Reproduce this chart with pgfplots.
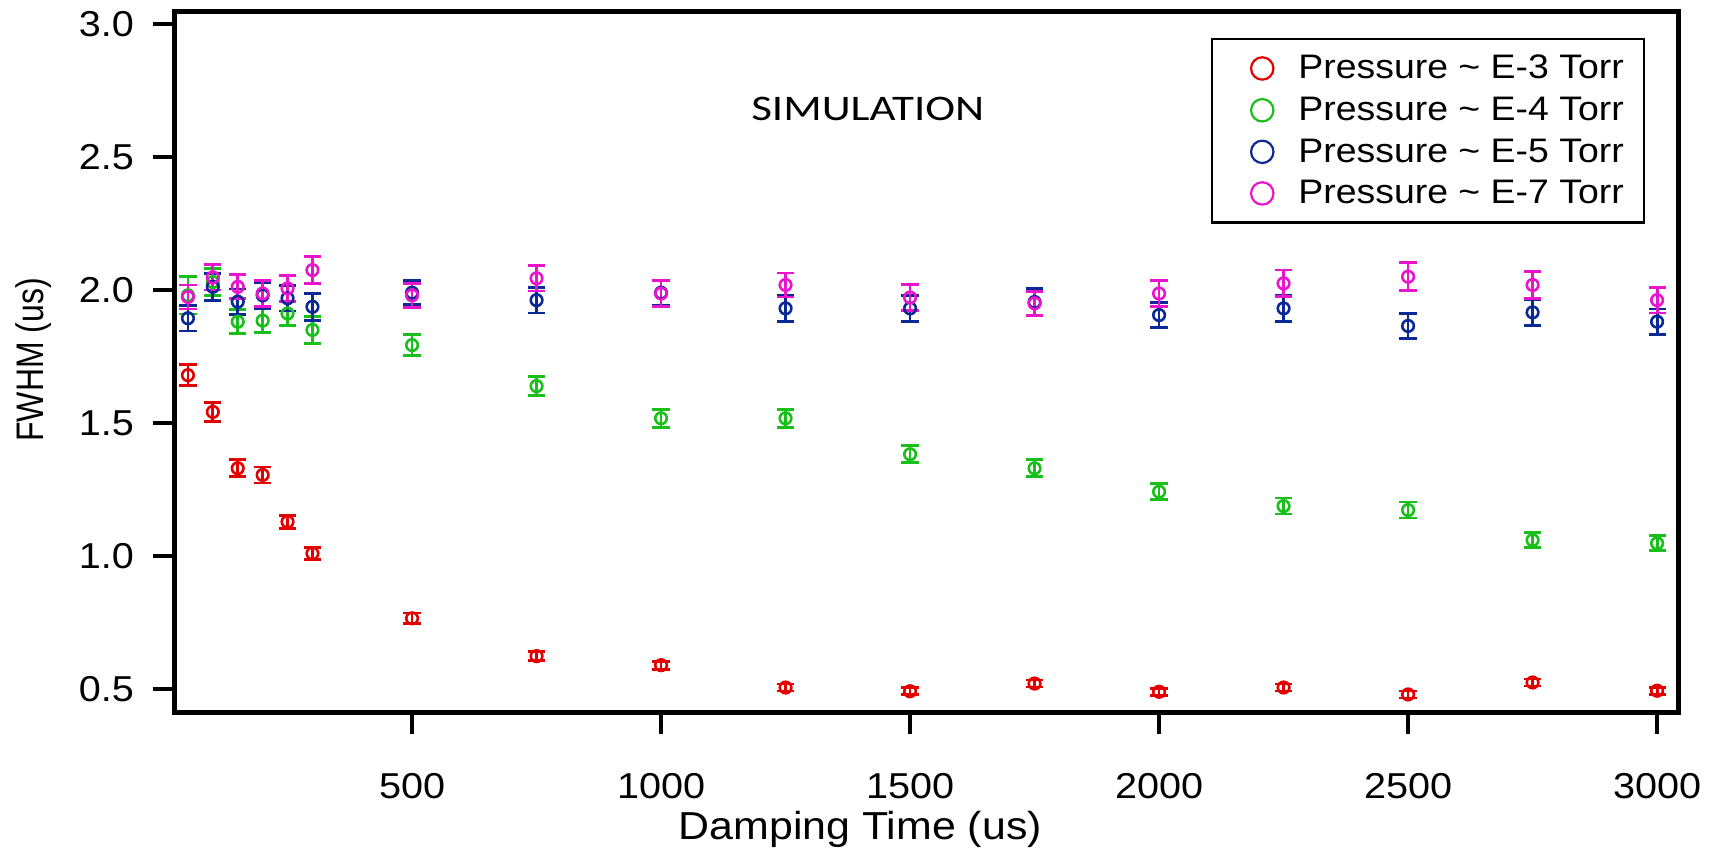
\documentclass[border=0pt]{standalone}
\usepackage{pgfplots}
\pgfplotsset{compat=1.18}
\usepackage{pgfplotstable}
\usepackage{fontspec}
\setmainfont{Liberation Sans}[FakeStretch=1.1]
\newfontfamily\ylabfont{Liberation Sans}[FakeStretch=0.833]
\newfontfamily\calib{Carlito}[FakeStretch=1.25]
\definecolor{cred}{RGB}{228,0,0}
\definecolor{cgreen}{RGB}{25,192,25}
\definecolor{cblue}{RGB}{10,40,150}
\definecolor{cmag}{RGB}{235,20,205}

\pgfplotstableread{
x y e
50 1.680 0.039
100 1.542 0.036
150 1.330 0.032
200 1.305 0.030
250 1.129 0.025
300 1.010 0.022
500 0.766 0.020
750 0.624 0.016
1000 0.590 0.015
1250 0.506 0.013
1500 0.492 0.013
1750 0.521 0.013
2000 0.490 0.013
2250 0.506 0.013
2500 0.480 0.013
2750 0.525 0.013
3000 0.494 0.013
}\tred

\pgfplotstableread{
x y e
50 1.980 0.070
100 2.030 0.050
150 1.881 0.045
200 1.885 0.045
250 1.912 0.045
300 1.850 0.050
500 1.793 0.040
750 1.639 0.036
1000 1.518 0.034
1250 1.518 0.034
1500 1.383 0.032
1750 1.330 0.032
2000 1.242 0.030
2250 1.188 0.030
2500 1.173 0.030
2750 1.060 0.028
3000 1.048 0.028
}\tgreen

\pgfplotstableread{
x y e
50 1.894 0.048
100 2.012 0.050
150 1.956 0.048
200 1.980 0.048
250 1.969 0.048
300 1.937 0.050
500 1.990 0.045
750 1.962 0.048
1000 1.990 0.048
1250 1.931 0.050
1500 1.931 0.048
1750 1.955 0.052
2000 1.906 0.048
2250 1.931 0.048
2500 1.865 0.048
2750 1.916 0.048
3000 1.881 0.048
}\tblue

\pgfplotstableread{
x y e
50 1.974 0.045
100 2.048 0.048
150 2.012 0.045
200 1.987 0.050
250 2.006 0.048
300 2.075 0.050
500 1.980 0.045
750 2.044 0.048
1000 1.987 0.050
1250 2.019 0.045
1500 1.972 0.048
1750 1.950 0.045
2000 1.987 0.048
2250 2.025 0.050
2500 2.050 0.052
2750 2.019 0.050
3000 1.962 0.048
}\tmag

\begin{document}
\begin{tikzpicture}
\path[use as bounding box] (-87.5pt,-70.5pt) rectangle (768pt,356pt);
\begin{axis}[
  scale only axis,
  width=751.5pt, height=350pt,
  at={(0,0)}, anchor=south west,
  xmin=24, xmax=3042,
  ymin=0.414, ymax=3.045,
  xtick={500,1000,...,3000},
  ytick={0.5,1.0,...,3.0},
  yticklabel style={/pgf/number format/fixed, /pgf/number format/fixed zerofill, /pgf/number format/precision=1, xshift=-6pt},
  xticklabel style={/pgf/number format/1000 sep={}, yshift=-16pt},
  /pgf/number format/assume math mode=true,
  tick align=outside,
  major tick length=11pt,
  every tick/.style={black, line width=2pt},
  axis line style={line width=2.5pt},
  xtick pos=bottom, ytick pos=left,
  tick label style={font=\fontsize{18}{21}\selectfont},
  xlabel={Damping Time (us)},
  ylabel={FWHM (us)},
  x label style={font=\fontsize{19.5}{22}\selectfont, at={(axis description cs:0.456,-0.167)}, anchor=center},
  y label style={font=\ylabfont\fontsize{19.2}{22}\selectfont, at={(axis description cs:-0.0938,0.503)}, anchor=center},
  legend style={at={(axis description cs:0.978,0.963)}, anchor=north east,
    draw=black, line width=1.2pt, font=\fontsize{17}{20}\selectfont,
    inner xsep=8pt, inner ysep=6pt, row sep=3.6pt,
    /tikz/every odd column/.append style={column sep=10pt}},
  legend cell align=left,
  legend image code/.code={\path (0pt,0pt) (22pt,0pt); \draw[#1, mark size=5.6pt, mark options={line width=1.1pt}] plot coordinates {(16.5pt,0pt)};},
  error bars/y dir=both,
  error bars/y explicit,
  error bars/error bar style={line width=1.4pt},
  error bars/error mark options={rotate=90, line width=1.4pt, mark size=4.3pt},
]
\addplot[only marks, mark=o, mark size=2.9pt, mark options={line width=1.3pt}, cred] table[x=x,y=y,y error=e]{\tred};
\addlegendentry{Pressure \textasciitilde{} E-3 Torr}
\addplot[only marks, mark=o, mark size=2.9pt, mark options={line width=1.3pt}, cgreen] table[x=x,y=y,y error=e]{\tgreen};
\addlegendentry{Pressure \textasciitilde{} E-4 Torr}
\addplot[only marks, mark=o, mark size=2.9pt, mark options={line width=1.3pt}, cblue] table[x=x,y=y,y error=e]{\tblue};
\addlegendentry{Pressure \textasciitilde{} E-5 Torr}
\addplot[only marks, mark=o, mark size=2.9pt, mark options={line width=1.3pt}, cmag] table[x=x,y=y,y error=e]{\tmag};
\addlegendentry{Pressure \textasciitilde{} E-7 Torr}
\node[font=\calib\fontsize{18}{21}\selectfont] at (axis cs:1415,2.68) {SIMULATION};
\end{axis}
\end{tikzpicture}
\end{document}
